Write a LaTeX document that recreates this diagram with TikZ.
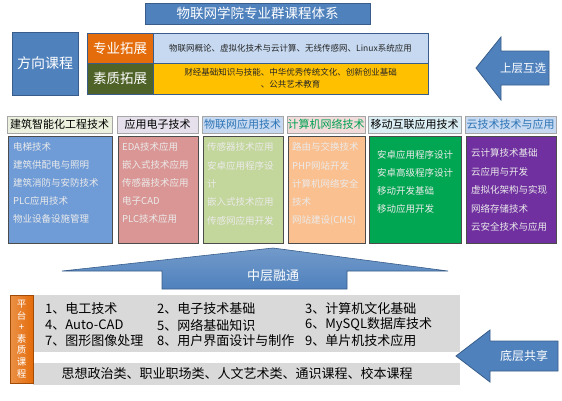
\documentclass[tikz,border=0pt]{standalone}
\usepackage{fontspec}
\setmainfont{Noto Sans CJK SC}
\usetikzlibrary{calc}
\definecolor{tblue}{HTML}{4F81BD}
\definecolor{tborder}{HTML}{385D8A}
\definecolor{orng}{HTML}{E46C0A}
\definecolor{olive}{HTML}{4F6228}
\definecolor{lblue}{HTML}{C6D9F1}
\definecolor{gold}{HTML}{FFC000}
\definecolor{c1h}{HTML}{EBF1DE}\definecolor{c1b}{HTML}{6F9BD6}
\definecolor{c2h}{HTML}{E5E0EC}\definecolor{c2b}{HTML}{D99694}
\definecolor{c3h}{HTML}{C6D9F1}\definecolor{c3b}{HTML}{C3D69B}
\definecolor{c4h}{HTML}{F2DCDB}\definecolor{c4b}{HTML}{FAC090}
\definecolor{c5h}{HTML}{DBEEF4}\definecolor{c5b}{HTML}{00A651}
\definecolor{c6h}{HTML}{C6D9F1}\definecolor{c6b}{HTML}{7030A0}
\definecolor{gbox}{HTML}{D9D9D9}
\definecolor{htblue}{HTML}{2E75B6}
\definecolor{htgreen}{HTML}{00A050}
\begin{document}
\begin{tikzpicture}[x=1pt,y=-1pt,
  blk/.style={draw=tborder,line width=0.8pt,fill=tblue},
  wtxt/.style={text=white,inner sep=0pt},
  hdr/.style={draw=gray!70,line width=0.5pt,inner sep=0pt},
  bodybox/.style={draw=black!70,line width=0.8pt},
  btxt/.style={text=white!92!black,font=\fontsize{9.5}{11}\selectfont,anchor=west,inner sep=0pt},
  ptxt/.style={font=\fontsize{13}{15}\selectfont,anchor=west,inner sep=0pt}]
\useasboundingbox (0,0) rectangle (562,400);
% title
\draw[blk] (145,3) rectangle (370,24);
\node[wtxt,font=\fontsize{13.5}{15}\selectfont] (title) at (257.5,13.5) {物联网学院专业群课程体系};
% direction courses
\draw[blk] (12,32) rectangle (78,95);
\node[wtxt,font=\fontsize{14}{16}\selectfont] (fx) at (45,63.5) {方向课程};
\draw[draw=tborder,fill=orng] (87,33) rectangle (153,63);
\node[wtxt,font=\fontsize{13.5}{15}\selectfont] (zy) at (120,48) {专业拓展};
\draw[draw=tborder,fill=olive] (87,63) rectangle (153,94);
\node[wtxt,font=\fontsize{13.5}{15}\selectfont] (sz) at (120,78.5) {素质拓展};
\draw[draw=tborder,fill=lblue] (153,33) rectangle (428,63);
\node[inner sep=0pt,font=\fontsize{8.5}{10}\selectfont,text=black!85] (zyt) at (290.5,48) {物联网概论、虚拟化技术与云计算、无线传感网、Linux系统应用};
\draw[draw=tborder,fill=gold] (153,63) rectangle (428,94);
\node[inner sep=0pt,font=\fontsize{8.5}{12}\selectfont,text=black!85,align=center] (szt) at (290.5,78.5) {财经基础知识与技能、中华优秀传统文化、创新创业基础\\、公共艺术教育};
% upper arrow
\draw[blk] (476,68) -- (501,37) -- (501,51) -- (549,51) -- (549,85) -- (501,85) -- (501,100) -- cycle;
\node[wtxt,font=\fontsize{11.5}{13}\selectfont] (up) at (523,68) {上层互选};
% columns
\foreach \xa/\xb/\hcol/\bcol/\htitle/\tcol [count=\i] in {
  7/112/c1h/c1b/建筑智能化工程技术/black,
  117/198/c2h/c2b/应用电子技术/black,
  202/283/c3h/c3b/物联网应用技术/htblue,
  287/365/c4h/c4b/计算机网络技术/htgreen,
  368/461/c5h/c5b/移动互联应用技术/black,
  465/556/c6h/c6b/云技术技术与应用/htblue}{
  \draw[hdr,fill=\hcol] (\xa,116) rectangle (\xb,133);
  \node[inner sep=0pt,text=\tcol,font=\fontsize{11}{13}\selectfont] (h\i) at ({(\xa+\xb)/2},124.5) {\htitle};
  \draw[bodybox,fill=\bcol] (\xa+1,136) rectangle (\xb,243);
}
\foreach \t [count=\j] in {电梯技术,建筑供配电与照明,建筑消防与安防技术,PLC应用技术,物业设备设施管理}
  \node[btxt] (a\j) at (13,{129+18*\j}) {\t};
\foreach \t [count=\j] in {EDA技术应用,嵌入式技术应用,传感器技术应用,电子CAD,PLC技术应用}
  \node[btxt] (b\j) at (122,{129+18*\j}) {\t};
\foreach \t [count=\j] in {传感器技术应用,安卓应用程序设,计,嵌入式技术应用,传感网应用开发}
  \node[btxt] (c\j) at (207,{129+18.3*\j}) {\t};
\foreach \t [count=\j] in {路由与交换技术,PHP网站开发,计算机网络安全,技术,网站建设(CMS)}
  \node[btxt] (d\j) at (292,{129+18.3*\j}) {\t};
\foreach \t [count=\j] in {安卓应用程序设计,安卓高级程序设计,移动开发基础,移动应用开发}
  \node[btxt] (e\j) at (377,{137+18*\j}) {\t};
\foreach \t [count=\j] in {云计算技术基础,云应用与开发,虚拟化架构与实现,网络存储技术,云安全技术与应用}
  \node[btxt] (f\j) at (471,{134.5+18.5*\j}) {\t};
% middle arrow
\shade[top color=tblue!80!white,bottom color=tblue,draw=tborder,line width=0.6pt]
  (62,271) -- (273,248) -- (448,271) -- (347,271) -- (347,289) -- (162,289) -- (162,271) -- cycle;
\node[wtxt,font=\fontsize{13}{15}\selectfont] (mid) at (273,276) {中层融通};
% platform
\fill[gbox] (33,295) rectangle (460,352);
\fill[gbox] (33,363) rectangle (460,385);
\shade[left color=orng!75!white,right color=orng,draw=orng!70!black] (10,295) rectangle (33,383);
\node[wtxt,align=center,font=\fontsize{9.5}{11.6}\selectfont] (pt) at (21.5,339) {平\\台\\+\\素\\质\\课\\程};
\node[ptxt] (p1) at (45,309) {1、电工技术};
\node[ptxt] (p2) at (157,309) {2、电子技术基础};
\node[ptxt] (p3) at (305,309) {3、计算机文化基础};
\node[ptxt] (p4) at (45,325) {4、Auto-CAD};
\node[ptxt] (p5) at (157,325) {5、网络基础知识};
\node[ptxt] (p6) at (305,325) {6、MySQL数据库技术};
\node[ptxt] (p7) at (45,341) {7、图形图像处理};
\node[ptxt] (p8) at (157,341) {8、用户界面设计与制作};
\node[ptxt] (p9) at (305,341) {9、单片机技术应用};
\node[inner sep=0pt,font=\fontsize{13}{15}\selectfont] (gen) at (237,374) {思想政治类、职业职场类、人文艺术类、通识课程、校本课程};
% bottom arrow
\draw[blk] (456,356) -- (490,330) -- (490,341) -- (558,341) -- (558,371) -- (490,371) -- (490,382) -- cycle;
\node[wtxt,font=\fontsize{12}{14}\selectfont] (low) at (524,356) {底层共享};
\end{tikzpicture}
\end{document}
